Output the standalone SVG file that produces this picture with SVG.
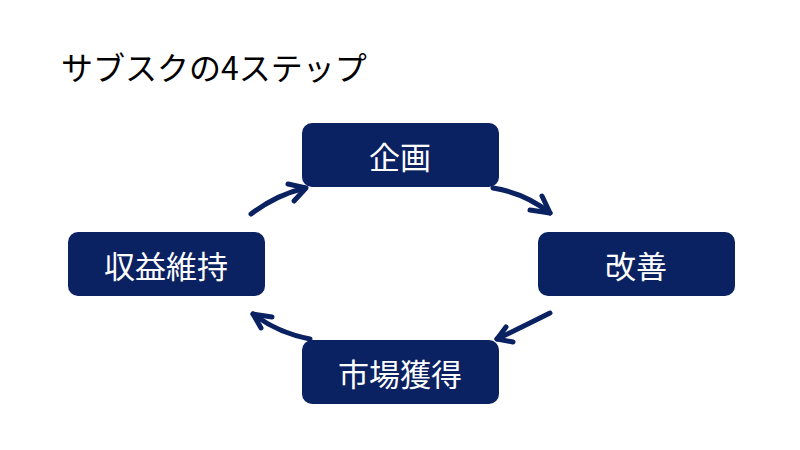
<svg xmlns="http://www.w3.org/2000/svg" width="800" height="450" viewBox="0 0 800 450">
<style>
.box{fill:#0b2262;}
.lbl{fill:#ffffff;font-family:"Noto Sans CJK JP","Noto Sans",sans-serif;font-size:31px;text-anchor:middle;dominant-baseline:central;}
.title{fill:#000000;font-family:"Noto Sans CJK JP","Noto Sans",sans-serif;font-size:32px;}
.arr{fill:none;stroke:#0b2262;stroke-width:5;stroke-linecap:round;stroke-linejoin:round;}
</style>
<rect width="800" height="450" fill="#ffffff"/>
<text class="title" x="61" y="80">サブスクの4ステップ</text>
<g id="connectors">
<path class="arr" d="M251,214 Q276,195 305,188"/>
<path class="arr" d="M288,184 L306,188 L294,201"/>
<path class="arr" d="M493,188 Q525,193 550,213"/>
<path class="arr" d="M542,196 L550,213 L530,210"/>
<path class="arr" d="M550,313 Q522,327 497,339"/>
<path class="arr" d="M506,327 L497,339 L513,342"/>
<path class="arr" d="M310,339 Q278,333 253,314"/>
<path class="arr" d="M272,317 L253,314 L261,328"/>
</g>
<g id="node-kikaku">
<rect class="box" x="302" y="123" width="197" height="64" rx="10"/>
<text class="lbl" x="400" y="155">企画</text>
</g>
<g id="node-kaizen">
<rect class="box" x="538" y="232" width="197" height="64" rx="10"/>
<text class="lbl" x="636" y="264">改善</text>
</g>
<g id="node-shijou">
<rect class="box" x="302" y="340" width="197" height="64" rx="10"/>
<text class="lbl" x="400" y="372">市場獲得</text>
</g>
<g id="node-shueki">
<rect class="box" x="68" y="232" width="197" height="64" rx="10"/>
<text class="lbl" x="166" y="264">収益維持</text>
</g>
</svg>
